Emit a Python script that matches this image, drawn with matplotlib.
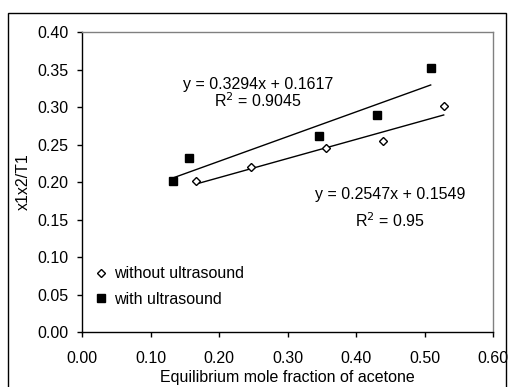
import matplotlib
matplotlib.use("Agg")
from matplotlib import pyplot as plt
from matplotlib.patches import Rectangle
import numpy as np

plt.rcParams['font.family'] = ['Liberation Sans', 'DejaVu Sans']

# without ultrasound
x_without = [0.166, 0.247, 0.356, 0.439, 0.528]
y_without = [0.201, 0.220, 0.245, 0.255, 0.301]
# with ultrasound
x_with = [0.133, 0.156, 0.346, 0.431, 0.509]
y_with = [0.202, 0.232, 0.261, 0.290, 0.352]

# trendline coefficients (slope, intercept, R2)
fit_without = [0.2547, 0.1549, "0.95"]
fit_with = [0.3294, 0.1617, "0.9045"]

fs = 11.5

fig = plt.figure(figsize=(5.1, 3.87), dpi=100)
ax = fig.add_axes([0.1608, 0.1421, 0.8059, 0.7752])

# outer chart frame
fig.patches.append(Rectangle((8 / 510, -0.05), 498 / 510, 1.05 - 13 / 387,
                             transform=fig.transFigure, fill=False,
                             edgecolor='black', linewidth=1.0, clip_on=False))

for xs, ys, fit in [(x_without, y_without, fit_without), (x_with, y_with, fit_with)]:
    xx = np.array([min(xs), max(xs)])
    ax.plot(xx, fit[0] * xx + fit[1], color='black', lw=1.0, zorder=2)

ax.plot(x_without, y_without, ls='none', marker='D', ms=4.5, mfc='white',
        mec='black', mew=1.0, label='without ultrasound', zorder=3)
ax.plot(x_with, y_with, ls='none', marker='s', ms=5.5, mfc='black',
        mec='black', label='with ultrasound', zorder=3)

ax.text(0.257, 0.3305, "y = %.4fx + %.4f" % (fit_with[0], fit_with[1]),
        ha='center', va='center', fontsize=fs)
ax.text(0.257, 0.3085, "R$^2$ = " + fit_with[2], ha='center', va='center', fontsize=fs)
ax.text(0.45, 0.184, "y = %.4fx + %.4f" % (fit_without[0], fit_without[1]),
        ha='center', va='center', fontsize=fs)
ax.text(0.45, 0.148, "R$^2$ = " + fit_without[2], ha='center', va='center', fontsize=fs)

ax.set_xlim(0, 0.6)
ax.set_ylim(0, 0.4)
ax.set_xticks(np.arange(0, 0.61, 0.1))
ax.set_yticks(np.arange(0, 0.41, 0.05))
ax.set_xticklabels(["%.2f" % v for v in np.arange(0, 0.61, 0.1)])
ax.set_yticklabels(["%.2f" % v for v in np.arange(0, 0.41, 0.05)])
ax.tick_params(direction='out', length=3.5, width=1, labelsize=fs)
ax.tick_params(axis='x', pad=10)
ax.tick_params(axis='y', pad=6)

ax.spines['top'].set_color('#808080')
ax.spines['right'].set_color('#808080')
for s in ax.spines.values():
    s.set_linewidth(1.0)

ax.set_xlabel("Equilibrium mole fraction of acetone", fontsize=fs, labelpad=3)
ax.set_ylabel("x1x2/T1", fontsize=fs, labelpad=5)

ax.legend(loc='center left', bbox_to_anchor=(0.035, 0.152), frameon=False,
          fontsize=fs, handlelength=0.6, handletextpad=0.5, labelspacing=0.65,
          borderaxespad=0, borderpad=0)

fig.savefig("out.png", dpi=100)
